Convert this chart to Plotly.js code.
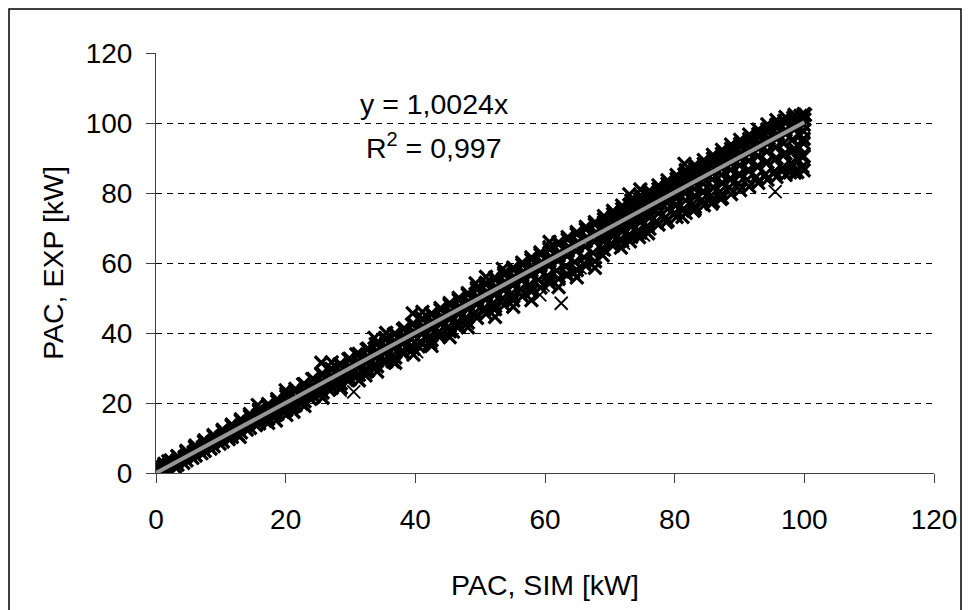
<!DOCTYPE html>
<html>
<head>
<meta charset="utf-8">
<script src="https://cdn.plot.ly/plotly-3.0.1.min.js"></script>
<style>html,body{margin:0;padding:0;background:#fff;}#chart{width:969px;height:610px;}</style>
</head>
<body>
<div id="chart"></div>
<script>
// PAC, SIM [kW] (x) and PAC, EXP [kW] (y)
var simKW = [
  0.0, 0.2, 0.4,  0.8, 1.1, 1.3,  1.7, 2.0, 2.3,  2.9, 3.1, 3.4,  4.2, 4.4, 4.7,
  5.6, 5.8, 6.0,  7.0, 7.2, 7.4,  8.4, 8.6, 8.9,  9.8, 10.0, 10.3,  11.2, 11.4, 11.7,
  12.6, 12.8, 13.1, 12.9,  14.0, 14.2, 14.5,  15.4, 15.6, 15.9, 15.7,  16.8, 17.0, 17.3,
  18.2, 18.4, 18.7, 18.5,  19.6, 19.8, 20.1, 20.0,  21.0, 21.2, 21.5, 21.2,
  22.4, 22.6, 22.9, 22.7,  23.8, 24.0, 24.3, 24.1,  25.2, 25.4, 25.7, 25.5, 25.5,
  26.6, 26.8, 27.1, 26.9,  28.0, 28.2, 28.5, 28.3,  29.4, 29.6, 29.9, 29.7,
  30.8, 31.0, 31.3, 31.1, 30.9,  32.2, 32.4, 32.7, 32.5, 32.3,
  33.6, 33.8, 34.1, 33.9, 33.7,  35.0, 35.2, 35.5, 35.3,  36.4, 36.6, 36.9, 36.7, 36.5,
  37.8, 38.0, 38.3, 38.1,  39.2, 39.4, 39.7, 39.5, 39.6,  40.5, 40.8, 41.0, 41.3, 41.1,
  42.2, 42.4, 42.7, 42.5, 42.3,  43.6, 43.8, 44.1, 43.9, 43.7,  45.0, 45.2, 45.5, 45.3,
  46.1, 46.4, 46.6, 46.9, 46.7, 45.8,  47.8, 48.0, 48.3, 48.1,  49.2, 49.4, 49.7, 49.5, 49.3,
  50.6, 50.8, 51.1, 50.9,  52.0, 52.2, 52.5, 52.3, 52.1,  53.4, 53.6, 53.9, 53.7, 53.5,
  54.8, 55.0, 55.3, 55.1, 54.9,  56.2, 56.4, 56.7, 56.5,  57.6, 57.8, 58.1, 57.9, 57.7,
  59.0, 59.2, 59.5, 59.3,  60.4, 60.6, 60.9, 60.7, 60.5,  61.8, 62.0, 62.3, 62.1,
  63.2, 63.4, 63.7, 63.5, 63.3,  64.6, 64.8, 65.1, 64.9,  66.0, 66.2, 66.5, 66.3, 66.1,
  67.4, 67.6, 67.9, 67.7,  68.8, 69.0, 69.3, 69.1, 68.9,  70.2, 70.4, 70.7, 70.5,
  71.6, 71.8, 72.1, 71.9, 71.7,  73.0, 73.2, 73.5, 73.3, 73.1, 73.0,
  74.4, 74.6, 74.9, 74.7, 74.5,  75.8, 76.0, 76.3, 76.1, 75.9,  77.2, 77.4, 77.7, 77.5,
  78.6, 78.8, 79.1, 78.9, 78.7,  80.0, 80.2, 80.5, 80.3, 80.1,
  81.4, 81.6, 81.9, 81.7, 81.5, 81.2,  82.8, 83.0, 83.3, 83.1, 82.9, 83.2,
  84.2, 84.4, 84.7, 84.5, 84.3,  85.6, 85.8, 86.1, 85.9, 85.7, 86.0,
  87.0, 87.2, 87.5, 87.3, 87.1, 87.4,  88.4, 88.6, 88.9, 88.7, 88.5,  89.8, 90.0, 90.3, 90.1, 89.9,
  91.2, 91.4, 91.7, 91.5, 91.3,  92.6, 92.8, 93.1, 92.9, 92.7,  94.0, 94.2, 94.5, 94.3, 94.1,
  95.4, 95.6, 95.9, 95.7, 95.5,  96.6, 96.8, 97.1, 96.9, 96.7,
  97.8, 98.0, 98.2, 98.5, 98.3, 98.1,  98.9, 99.1, 99.3, 99.6, 99.4, 99.2,
  99.6, 99.8, 100.0, 100.1, 99.9, 99.7
];
var expKW = [
  0.0, 1.0, 0.3,  0.3, 1.8, 2.6,  0.9, 2.4, 3.6,  1.8, 3.2, 4.6,  2.9, 4.5, 6.0,
  4.3, 5.9, 7.4,  5.7, 7.3, 8.9,  7.0, 8.7, 10.5,  8.4, 10.1, 11.9,  9.7, 11.5, 13.4,
  11.0, 12.9, 14.9, 10.3,  12.4, 14.3, 16.2,  13.7, 15.7, 17.7, 19.4,  15.0, 17.0, 19.1,
  16.3, 18.4, 20.5, 15.0,  17.6, 19.7, 21.9, 23.6,  18.9, 21.1, 23.3, 17.5,
  19.9, 21.7, 23.6, 25.3,  21.2, 23.1, 25.0, 26.8,  22.6, 24.5, 26.4, 28.2, 31.5,
  23.9, 25.9, 27.8, 29.7,  25.3, 27.3, 29.2, 31.0,  26.6, 28.6, 30.6, 32.5,
  27.4, 28.0, 30.1, 32.0, 33.9,  29.3, 31.4, 33.4, 35.3, 27.9,
  30.7, 32.8, 34.9, 36.8, 38.6,  32.0, 34.2, 36.2, 38.1,  33.4, 35.6, 37.7, 39.6, 31.9,
  34.7, 37.0, 39.1, 41.0,  36.0, 38.3, 40.5, 42.4, 45.6,  36.2, 37.5, 39.7, 41.9, 43.8,
  39.0, 41.2, 43.3, 45.2, 37.1,  40.3, 42.6, 44.7, 46.6, 38.9,  41.7, 44.0, 46.1, 48.0,
  42.3, 43.1, 45.4, 47.5, 49.4, 40.4,  44.4, 46.8, 49.0, 51.0,  45.8, 48.2, 50.4, 52.4, 54.2,
  47.1, 49.6, 51.8, 53.8,  48.5, 50.9, 53.2, 55.2, 46.9,  49.8, 52.3, 54.6, 56.6, 58.3,
  51.2, 53.7, 56.0, 58.0, 49.8,  52.5, 55.1, 57.5, 59.5,  53.8, 56.5, 58.9, 60.9, 52.6,
  55.2, 57.9, 60.3, 62.4,  56.4, 59.2, 61.8, 63.9, 54.9,  57.8, 60.6, 63.1, 65.3,
  59.0, 62.0, 64.6, 66.7, 56.7,  60.3, 63.4, 66.0, 68.2,  61.6, 64.7, 67.4, 69.6, 59.8,
  62.9, 66.1, 68.8, 71.0,  64.2, 67.5, 70.3, 72.5, 62.2,  65.5, 68.9, 71.7, 74.0,
  66.8, 70.3, 73.1, 75.4, 64.4,  68.1, 71.6, 74.6, 76.8, 66.2, 79.6,
  69.4, 73.0, 76.0, 78.3, 67.4,  70.6, 74.4, 77.4, 79.7, 68.5,  71.9, 75.8, 78.8, 81.1,
  73.1, 77.2, 80.2, 82.6, 71.7,  74.3, 78.5, 81.6, 84.0, 76.4,
  75.5, 79.9, 83.0, 85.5, 88.3, 73.2,  76.8, 81.2, 84.4, 86.9, 74.9, 79.0,
  78.0, 82.6, 85.8, 88.3, 80.3,  79.2, 83.9, 87.2, 89.8, 77.0, 81.5,
  80.4, 85.2, 88.6, 91.2, 78.3, 82.8,  81.6, 86.6, 90.0, 92.6, 84.0,  82.7, 87.9, 91.4, 94.0, 85.3,
  83.8, 89.2, 92.8, 95.4, 86.5,  84.6, 90.5, 94.2, 96.8, 87.6,  85.3, 91.8, 95.6, 98.2, 88.6,
  86.2, 93.1, 96.9, 99.5, 89.7,  87.2, 94.2, 98.0, 100.6, 90.8,
  85.9, 88.5, 95.3, 99.1, 101.5, 92.0,  86.0, 89.3, 96.5, 100.2, 102.0, 93.0,
  90.5, 97.8, 101.0, 102.3, 94.2, 87.5
];
// second, interleaved group of points from the same dense band
var simKWb = [
  0.5, 0.6,  1.9, 1.9, 1.9,  3.3, 3.3, 3.3,  4.7, 4.7, 4.7,  6.1, 6.1, 6.1,  7.5, 7.5, 7.5,
  8.9, 8.9, 8.9,  10.3, 10.3, 10.3,  11.7, 11.7, 11.7,  13.1, 13.1, 13.1,  14.5, 14.5, 14.5,
  15.9, 15.9, 15.9,  17.3, 17.3, 17.3, 17.3,  18.7, 18.7, 18.7,  20.1, 20.1, 20.1, 20.1,
  21.5, 21.5, 21.5,  22.9, 22.9, 22.9, 22.9,  24.3, 24.3, 24.3,  25.7, 25.7, 25.7, 25.7,
  27.1, 27.1, 27.1, 27.1,  28.5, 28.5, 28.5, 28.5,  29.9, 29.9, 29.9,  31.3, 31.3, 31.3, 31.3,
  32.7, 32.7, 32.7,  34.1, 34.1, 34.1, 34.1,  35.5, 35.5, 35.5, 35.5,  36.9, 36.9, 36.9, 36.9,
  38.3, 38.3, 38.3,  39.7, 39.7, 39.7, 39.7,  41.1, 41.1, 41.1, 41.1,  42.5, 42.5, 42.5, 42.5,
  43.9, 43.9, 43.9,  45.3, 45.3, 45.3, 45.3,  46.7, 46.7, 46.7,  48.1, 48.1, 48.1, 48.1,
  49.5, 49.5, 49.5,  50.9, 50.9, 50.9, 50.9,  52.3, 52.3, 52.3, 52.3,  53.7, 53.7, 53.7,
  55.1, 55.1, 55.1, 55.1,  56.5, 56.5, 56.5,  57.9, 57.9, 57.9, 57.9,  59.3, 59.3, 59.3,
  60.7, 60.7, 60.7, 60.7,  62.1, 62.1, 62.1, 62.1,  63.5, 63.5, 63.5,  64.9, 64.9, 64.9, 64.9,
  66.3, 66.3, 66.3,  67.7, 67.7, 67.7, 67.7,
  69.1, 69.1, 69.1, 69.1, 69.1,  70.5, 70.5, 70.5, 70.5, 70.5,  71.9, 71.9, 71.9, 71.9, 71.9,
  73.3, 73.3, 73.3, 73.3, 73.3,  74.7, 74.7, 74.7, 74.7, 74.7, 74.7,  76.1, 76.1, 76.1, 76.1, 76.1,
  77.5, 77.5, 77.5, 77.5, 77.5,  78.9, 78.9, 78.9, 78.9, 78.9,  80.3, 80.3, 80.3, 80.3, 80.3,
  81.7, 81.7, 81.7, 81.7, 81.7,  83.1, 83.1, 83.1, 83.1, 83.1, 83.1,  84.5, 84.5, 84.5, 84.5, 84.5,
  85.9, 85.9, 85.9, 85.9, 85.9,  87.3, 87.3, 87.3, 87.3, 87.3,  88.7, 88.7, 88.7, 88.7, 88.7,
  90.1, 90.1, 90.1, 90.1, 90.1,  91.5, 91.5, 91.5, 91.5, 91.5,  92.9, 92.9, 92.9, 92.9, 92.9,
  94.3, 94.3, 94.3, 94.3, 94.3,  95.7, 95.7, 95.7, 95.7, 95.7,  97.1, 97.1, 97.1, 97.1, 97.1,
  98.5, 98.5, 98.5, 98.5, 98.5,  99.9, 99.9, 99.9, 99.9, 99.9
];
var expKWb = [
  0.6, 1.5,  1.0, 2.2, 3.3,  2.4, 3.6, 4.8,  3.6, 5.0, 6.3,  5.0, 6.4, 7.8,  6.3, 7.8, 9.3,
  7.7, 9.2, 10.8,  9.0, 10.6, 12.3,  10.3, 12.0, 13.8,  11.6, 13.5, 15.3,  12.9, 14.8, 16.8,
  14.2, 16.2, 18.2,  15.5, 17.6, 19.7, 14.3,  16.8, 19.0, 21.1,  18.0, 20.4, 22.6, 16.6,
  19.3, 21.7, 24.0,  20.5, 23.0, 25.4, 19.2,  21.8, 24.4, 26.8,  23.0, 25.8, 28.3, 21.5,
  24.3, 27.2, 29.7, 31.6,  25.6, 28.6, 31.1, 24.4,  26.8, 29.9, 32.6,  28.1, 31.3, 34.0, 26.5,
  29.3, 32.7, 35.5,  30.5, 34.1, 36.9, 29.0,  31.8, 35.5, 38.4, 40.0,  33.0, 36.9, 39.8, 31.5,
  34.3, 38.3, 41.3,  35.5, 39.7, 42.7, 33.8,  36.8, 41.1, 44.2, 46.0,  38.0, 42.5, 45.6, 36.3,
  39.3, 43.9, 47.1,  40.5, 45.3, 48.5, 38.8,  41.8, 46.7, 50.0,  43.0, 48.1, 51.4, 41.6,
  44.3, 49.5, 52.9,  45.5, 50.9, 54.3, 56.0,  46.8, 52.3, 55.8, 44.6,  48.0, 53.7, 57.2,
  49.3, 55.1, 58.7, 47.5,  50.5, 56.5, 60.1,  51.8, 57.9, 61.6, 49.4,  53.0, 59.3, 63.0,
  54.2, 60.7, 64.5, 66.0,  55.5, 62.1, 65.9, 53.1,  56.7, 63.5, 67.4,  58.0, 64.9, 68.8, 55.9,
  59.2, 66.3, 70.3,  60.5, 67.7, 71.7, 58.6,
  63.8, 66.2, 68.9, 71.6, 73.4,  65.0, 67.6, 70.3, 73.0, 74.9,  66.3, 69.0, 71.7, 74.4, 76.4,
  67.5, 70.3, 73.1, 75.9, 77.8,  68.7, 71.6, 74.5, 77.3, 79.3, 81.0,  69.8, 72.9, 75.9, 78.7, 80.7,
  71.0, 74.2, 77.3, 80.2, 82.2,  72.1, 75.4, 78.7, 81.6, 83.6,  73.2, 76.7, 80.0, 83.0, 85.1,
  74.3, 77.9, 81.4, 84.5, 86.5,  75.4, 79.2, 82.8, 85.9, 88.0, 76.0,  76.5, 80.4, 84.2, 87.3, 89.4,
  77.6, 81.6, 85.6, 88.8, 90.9,  78.6, 82.8, 87.0, 90.2, 92.3,  79.7, 84.0, 88.4, 91.6, 93.8,
  80.8, 85.2, 89.8, 93.1, 95.2,  81.8, 86.4, 91.2, 94.5, 96.7,  82.9, 87.6, 92.6, 95.9, 98.1,
  83.8, 88.8, 94.0, 97.3, 99.6,  84.6, 90.0, 95.4, 98.7, 100.8,  85.2, 91.3, 96.8, 100.0, 101.7,
  85.8, 92.6, 98.2, 101.0, 102.3,  86.5, 90.5, 95.5, 99.5, 102.5
];
// isolated points lying clearly below the band
var simKWo = [28.4, 30.5, 40.2, 59.2, 59.7, 62.5, 64.4, 65.4, 72.1, 75.2, 79.8, 95.5];
var expKWo = [23.7, 23.2, 34.7, 50.9, 53.7, 48.5, 57.5, 58.6, 65.7, 68.0, 73.7, 80.4];
// Linear trendline through origin (y = 1,0024x)
var trendX = [0, 100];
var trendY = [0, 100.24];
var axisTicks = [0, 20, 40, 60, 80, 100, 120];
var equationText = "y = 1,0024x";
var r2Text = "R<sup>2</sup> = 0,997";

var FONT = "Liberation Sans, Arial, sans-serif";
var traces = [
  { type: "scatter", mode: "markers", x: simKW.concat(simKWb), y: expKW.concat(expKWb),
    showlegend: false, hoverinfo: "x+y",
    marker: { symbol: "x-thin", size: 13, color: "#000", line: { color: "#000", width: 3.2 } } },
  { type: "scatter", mode: "markers", x: simKWo, y: expKWo, showlegend: false, hoverinfo: "x+y",
    marker: { symbol: "x-thin", size: 13, color: "#000", line: { color: "#000", width: 1.8 } } },
  { type: "scatter", mode: "lines", x: trendX, y: trendY, showlegend: false,
    line: { color: "#969696", width: 4 }, hoverinfo: "skip" }
];

var axisCommon = {
  range: [0, 120], tickvals: axisTicks, ticktext: axisTicks.map(String),
  ticks: "outside", ticklen: 9, tickwidth: 1, tickcolor: "#404040",
  showline: true, linecolor: "#404040", linewidth: 1,
  zeroline: false, fixedrange: true,
  tickfont: { family: FONT, size: 28, color: "#000" }
};

var layout = {
  width: 969, height: 610,
  margin: { l: 156, r: 35, t: 53, b: 137, autoexpand: false },
  paper_bgcolor: "#fff", plot_bgcolor: "#fff",
  font: { family: FONT, size: 28, color: "#000" },
  xaxis: Object.assign({}, axisCommon, {
    showgrid: false, ticklabelstandoff: 12,
    title: { text: "PAC, SIM [kW]", font: { family: FONT, size: 28.5, color: "#000" }, standoff: 41 },
    automargin: false
  }),
  yaxis: Object.assign({}, axisCommon, {
    showgrid: true, gridcolor: "#000", gridwidth: 1, griddash: "6px,5px",
    ticklabelstandoff: 8,
    title: { text: "PAC, EXP [kW]", font: { family: FONT, size: 28.5, color: "#000" }, standoff: 13 },
    automargin: false
  }),
  annotations: [
    { xref: "x", yref: "y", x: 42.9, y: 105.4, text: equationText, showarrow: false,
      font: { family: FONT, size: 28.5, color: "#000" }, xanchor: "center", yanchor: "middle" },
    { xref: "x", yref: "y", x: 42.9, y: 93.4, text: r2Text, showarrow: false,
      font: { family: FONT, size: 28.5, color: "#000" }, xanchor: "center", yanchor: "middle" }
  ],
  shapes: [
    { type: "rect", xref: "paper", yref: "paper",
      x0: (9 - 156) / 778, x1: (961 - 156) / 778,
      y0: (473 - 614) / 420, y1: (473 - 9) / 420,
      line: { color: "#000", width: 1.5 }, fillcolor: "rgba(0,0,0,0)", layer: "below" }
  ]
};

Plotly.newPlot("chart", traces, layout, { staticPlot: true, displayModeBar: false });
</script>
</body>
</html>
